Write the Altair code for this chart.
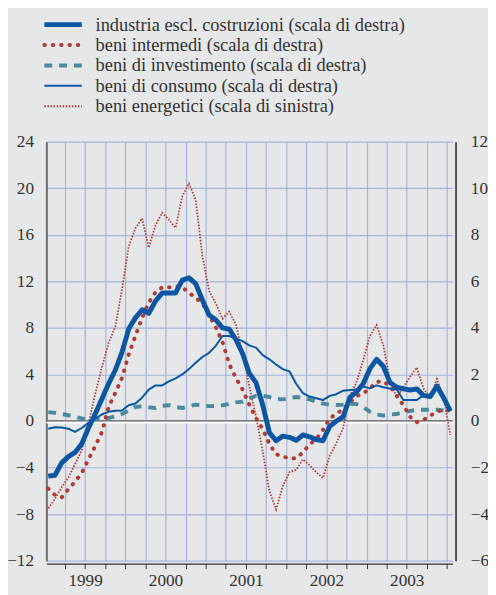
import altair as alt
import pandas as pd

# --- data (monthly, Jan 1999 - Jan 2004) ---
mesi = [f"{1999 + k // 12}-{k % 12 + 1:02d}" for k in range(61)]

# right scale
industria = [-2.37, -2.33, -1.8, -1.53, -1.35, -0.98, -0.3, 0.3, 0.95, 1.6,
             2.18, 2.95, 3.95, 4.43, 4.78, 4.63, 5.15, 5.5, 5.5, 5.5,
             6.05, 6.15, 5.9, 5.2, 4.55, 4.35, 4.0, 3.95, 3.5, 2.9,
             2.05, 1.65, 0.7, -0.5, -0.85, -0.65, -0.7, -0.83, -0.6, -0.68,
             -0.8, -0.85, -0.23, 0.0, 0.18, 1.0, 1.25, 1.6, 2.25, 2.65,
             2.35, 1.65, 1.45, 1.38, 1.33, 1.38, 1.1, 1.05, 1.5, 1.0, 0.43]
intermedi = [-2.9, -3.18, -3.28, -2.93, -2.6, -2.23, -1.65, -1.08, -0.48, 0.6,
             1.2, 1.85, 2.85, 3.65, 4.43, 5.08, 5.53, 5.74, 5.74, 5.79,
             5.75, 5.5, 5.3, 5.05, 4.55, 4.03, 3.4, 2.45, 1.85, 1.35,
             0.7, 0.13, -0.35, -0.98, -1.43, -1.52, -1.61, -1.6, -1.35, -1.0,
             -0.78, -0.38, 0.1, 0.33, 0.49, 0.8, 1.07, 1.18, 1.4, 1.68,
             1.7, 1.5, 1.08, 0.68, 0.18, -0.05, 0.05, 0.23, 0.4, 0.48, 0.44]
investimento = [0.38, 0.35, 0.3, 0.25, 0.18, 0.11, 0.06, 0.06, 0.09, 0.13,
                0.2, 0.3, 0.45, 0.6, 0.63, 0.59, 0.56, 0.65, 0.68, 0.6,
                0.56, 0.63, 0.7, 0.68, 0.64, 0.65, 0.68, 0.73, 0.8, 0.83,
                0.98, 1.08, 1.08, 1.03, 0.95, 0.93, 0.98, 1.03, 1.0, 0.93,
                0.83, 0.75, 0.7, 0.69, 0.7, 0.73, 0.73, 0.6, 0.4, 0.28,
                0.24, 0.28, 0.3, 0.38, 0.43, 0.48, 0.48, 0.48, 0.48, 0.45, 0.41]
consumo = [-0.33, -0.27, -0.28, -0.33, -0.47, -0.3, -0.08, 0.1, 0.28, 0.4,
           0.44, 0.45, 0.68, 0.75, 1.0, 1.35, 1.53, 1.53, 1.7, 1.83,
           2.0, 2.23, 2.5, 2.75, 2.93, 3.23, 3.65, 3.65, 3.55, 3.43,
           3.25, 3.15, 2.83, 2.65, 2.43, 2.23, 2.13, 1.6, 1.2, 1.05,
           0.98, 0.9, 1.08, 1.15, 1.3, 1.33, 1.35, 1.48, 1.4, 1.53,
           1.45, 1.4, 1.35, 0.9, 0.9, 0.9, 1.1, 1.1, 1.43, 1.1, 0.41]
# left scale
energetici = [-7.5, -6.7, -5.7, -4.85, -3.7, -2.5, -0.2, 2.3, 4.6, 6.7,
              8.1, 11.3, 15.0, 16.55, 17.4, 14.9, 16.8, 17.9, 17.3, 16.6,
              19.3, 20.4, 19.0, 14.2, 11.2, 10.1, 8.8, 9.4, 8.3, 5.8,
              3.0, 0.4, -2.6, -6.0, -7.6, -5.6, -4.4, -4.2, -3.3, -3.8,
              -4.4, -4.9, -3.0, -1.9, -0.6, 2.2, 3.3, 5.2, 7.3, 8.25,
              6.5, 3.5, 2.0, 2.9, 3.8, 4.6, 2.8, 2.0, 3.6, 2.0, -1.2]

nomi = ["industria escl. costruzioni (scala di destra)",
        "beni intermedi (scala di destra)",
        "beni di investimento (scala di destra)",
        "beni di consumo (scala di destra)",
        "beni energetici (scala di sinistra)"]

tick_sx = [-12, -8, -4, 0, 4, 8, 12, 16, 20, 24]
tick_dx = [-6, -4, -2, 0, 2, 4, 6, 8, 10, 12]
trimestri = [1999.25 + 0.25 * k for k in range(20)]

# --- styles ---
FONT = "'Liberation Serif', 'Times New Roman', Times, serif"
TXT = "#333333"
GRID = "#a9b3db"
BG = "#e6e7e9"
BLU = "#0a56a3"
ROSSO = "#b23a32"
TEAL = "#4a8a9c"


def tempo(m):
    y, mm = m.split("-")
    return int(y) + (int(mm) - 0.5) / 12


T = [tempo(m) for m in mesi]


def frame(vals):
    return pd.DataFrame({"t": T, "v": vals})


X = alt.X("t:Q",
          scale=alt.Scale(domain=[1999.018, 2004.07], nice=False, zero=False),
          axis=alt.Axis(values=trimestri,
                        labelExpr="(datum.value % 1 == 0.5) ? floor(datum.value) : ''",
                        grid=True, gridColor=GRID, gridWidth=1.2,
                        tickSize=5, tickColor="#333", tickWidth=1,
                        domainColor="#333", domainWidth=1.2, offset=3,
                        labelFont=FONT, labelFontSize=17.5, labelColor=TXT,
                        labelPadding=3, labelOverlap=False, labelFlush=False,
                        title=None))

YL = alt.Y("v:Q",
           scale=alt.Scale(domain=[-12, 24], nice=False, zero=False),
           axis=alt.Axis(orient="left", values=tick_sx, grid=True, gridColor=GRID,
                         gridWidth=1.2, ticks=False, domainColor="#6b6b6b", domainWidth=2,
                         labelFont=FONT, labelFontSize=17.5, labelColor=TXT,
                         labelPadding=13, labelFlush=False, title=None))

YR = alt.Y("v:Q",
           scale=alt.Scale(domain=[-6, 12], nice=False, zero=False),
           axis=alt.Axis(orient="right", values=tick_dx, grid=False, ticks=False,
                         domainColor="#222", domainWidth=1.5, offset=3,
                         labelFont=FONT, labelFontSize=17.5, labelColor=TXT,
                         labelPadding=15, labelFlush=False, title=None))

# zero line
zero_df = pd.DataFrame({"v": [0]})
zero_w = alt.Chart(zero_df).mark_rule(color="white", strokeWidth=2, yOffset=1.6).encode(y=YL)
zero_g = alt.Chart(zero_df).mark_rule(color="#7a7a7a", strokeWidth=1.6, yOffset=-0.2).encode(y=YL)

stili = {
    nomi[0]: dict(color=BLU, strokeWidth=5, strokeJoin="round"),
    nomi[1]: dict(color=ROSSO, strokeWidth=4, strokeDash=[0.5, 8], strokeCap="round"),
    nomi[2]: dict(color=TEAL, strokeWidth=4, strokeDash=[8, 7]),
    nomi[3]: dict(color=BLU, strokeWidth=2, strokeJoin="round"),
    nomi[4]: dict(color=ROSSO, strokeWidth=1.8, strokeDash=[1.5, 1.6]),
}

energ_line = alt.Chart(frame(energetici)).mark_line(**stili[nomi[4]]).encode(x=X, y=YL)
left_group = alt.layer(zero_w, zero_g, energ_line)

right_group = alt.layer(
    alt.Chart(frame(investimento)).mark_line(**stili[nomi[2]]).encode(x=X, y=YR),
    alt.Chart(frame(intermedi)).mark_line(**stili[nomi[1]]).encode(x=X, y=YR),
    alt.Chart(frame(consumo)).mark_line(**stili[nomi[3]]).encode(x=X, y=YR),
    alt.Chart(frame(industria)).mark_line(**stili[nomi[0]]).encode(x=X, y=YR),
)

# legend above the plot
leg_df = pd.DataFrame({"nome": nomi, "r": list(range(len(nomi)))})
YLEG = alt.Y("r:Q", scale=alt.Scale(domain=[0, 4], range=[-119, -36]), axis=None)
leg_layers = []
for k, n in enumerate(nomi):
    leg_layers.append(
        alt.Chart(leg_df[leg_df.r == k]).mark_rule(**stili[n]).encode(
            x=alt.value(-2), x2=alt.value(36), y=YLEG))
leg_layers.append(
    alt.Chart(leg_df).mark_text(align="left", baseline="middle", font=FONT,
                                fontSize=18.7, color=TXT).encode(
        x=alt.value(50), y=YLEG, text="nome:N"))
legend_group = alt.layer(*leg_layers)

chart = alt.layer(left_group, right_group, legend_group).resolve_scale(
    y="independent"
).properties(
    width=413, height=426,
    autosize=alt.AutoSizeParams(type="none"),
    padding={"left": 39, "top": 131, "right": 36, "bottom": 30},
).configure(background=BG).configure_view(stroke=None)

chart.save("out.html", embed_options={"renderer": "svg", "actions": False})
